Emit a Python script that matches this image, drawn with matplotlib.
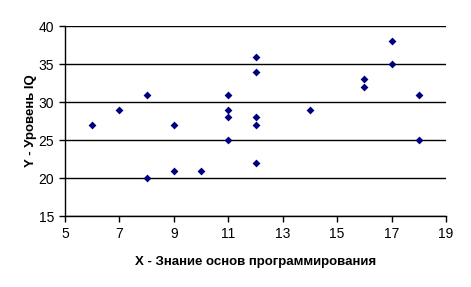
import matplotlib
matplotlib.use("Agg")
import matplotlib.pyplot as plt

# X - programming knowledge score, Y - IQ level
x_vals = [6, 7, 8, 8, 9, 9, 10, 11, 11, 11, 11, 12, 12, 12, 12, 12, 14, 16, 16, 17, 17, 18, 18]
y_vals = [27, 29, 31, 20, 27, 21, 21, 31, 29, 28, 25, 36, 34, 28, 27, 22, 29, 33, 32, 38, 35, 31, 25]
x_ticks = [5, 7, 9, 11, 13, 15, 17, 19]
y_ticks = [15, 20, 25, 30, 35, 40]

plt.rcParams["font.family"] = ["Liberation Sans", "DejaVu Sans"]

fig = plt.figure(figsize=(4.71, 2.87), dpi=100)
ax = fig.add_axes([0.138, 0.247, 0.809, 0.662])

ax.scatter(x_vals, y_vals, marker="D", s=16, color="#000080", zorder=3, linewidths=0)

ax.set_xlim(5, 19)
ax.set_ylim(15, 40)
ax.set_xticks(x_ticks)
ax.set_yticks(y_ticks)
ax.yaxis.grid(True, color="black", lw=1)
ax.set_axisbelow(True)
for s in ("top", "right"):
    ax.spines[s].set_visible(False)
for s in ("left", "bottom"):
    ax.spines[s].set_linewidth(1)
ax.tick_params(direction="out", length=4, width=1, labelsize=10, colors="black", pad=4)

ax.set_xlabel("X - Знание основ программирования", fontsize=9.5, fontweight="bold", labelpad=11)
ax.set_ylabel("Y - Уровень IQ", fontsize=9.5, fontweight="bold", labelpad=1)

fig.savefig("out.png", dpi=100)
